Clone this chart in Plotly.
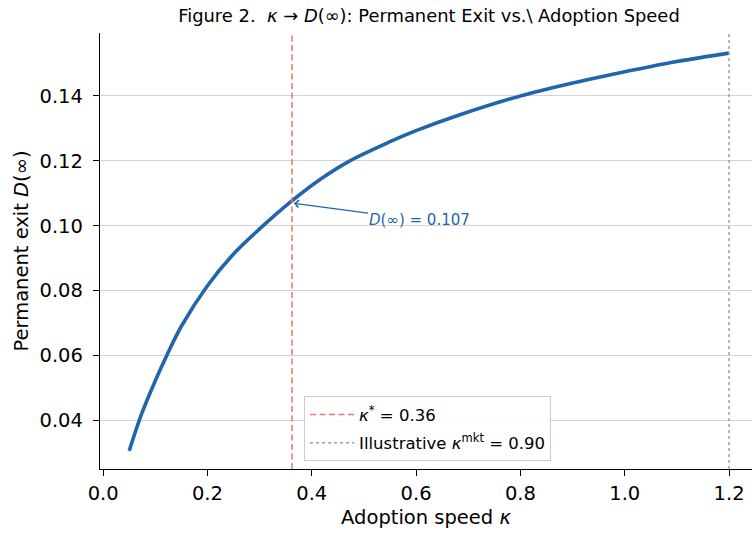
import plotly.graph_objects as go

# Data
kappa = [0.05, 0.075, 0.10, 0.122, 0.15, 0.20, 0.25, 0.30, 0.36, 0.42, 0.473,
         0.55, 0.60, 0.684, 0.80, 0.90, 0.972, 1.10, 1.20]
d_inf = [0.0306, 0.0425, 0.0522, 0.0600, 0.0690, 0.0815, 0.0913, 0.0990, 0.1074,
         0.1147, 0.1200, 0.1259, 0.1293, 0.1342, 0.1400, 0.1440, 0.1465, 0.1506, 0.1532]

kappa_star = 0.36
kappa_star_x = 0.362          # where the dashed line is drawn
d_at_star = 0.107
kappa_mkt_label = 0.90
kappa_mkt_x = 1.20            # where the dotted line is drawn in the reference

x_ticks = [0.0, 0.2, 0.4, 0.6, 0.8, 1.0, 1.2]
y_ticks = [0.04, 0.06, 0.08, 0.10, 0.12, 0.14]

FONT = "DejaVu Sans"
BLUE = "#2166ac"
RED = "#e07a68"
GREY = "#a0a0a0"

fig = go.Figure()

fig.add_trace(go.Scatter(
    x=kappa, y=d_inf, mode="lines",
    line=dict(color=BLUE, width=3.6, shape="spline", smoothing=1.0),
    showlegend=False, hoverinfo="skip"))

fig.add_trace(go.Scatter(
    x=[kappa_star_x, kappa_star_x], y=[0, 1], yaxis="y2", mode="lines",
    line=dict(color=RED, width=1.5, dash="6px,3.5px"), legendgroup="a",
    name=f"<i>κ</i><sup>*</sup> = {kappa_star:.2f}"))

fig.add_trace(go.Scatter(
    x=[kappa_mkt_x, kappa_mkt_x], y=[0, 1], yaxis="y2", mode="lines",
    line=dict(color=GREY, width=1.5, dash="dot"), legendgroup="b",
    name=f"Illustrative <i>κ</i><sup>mkt</sup> = {kappa_mkt_label:.2f}"))

fig.add_annotation(
    x=kappa_star_x, y=d_at_star, xref="x", yref="y",
    text=f"<i>D</i>(∞) = {d_at_star:.3f}",
    font=dict(family=FONT, size=15, color=BLUE),
    showarrow=True, arrowhead=4, arrowsize=1.1, arrowwidth=1.3, arrowcolor=BLUE,
    ax=128, ay=17, standoff=2)

fig.update_layout(
    width=752, height=536,
    margin=dict(l=100, r=0, t=33, b=67),
    paper_bgcolor="white", plot_bgcolor="white",
    font=dict(family=FONT, size=19.5, color="black"),
    title=dict(text="Figure 2.  <i>κ</i> → <i>D</i>(∞): Permanent Exit vs.\\ Adoption Speed",
               x=0.5046, xref="paper", xanchor="center", y=0.97, yanchor="middle",
               font=dict(family=FONT, size=17.9, color="black")),
    xaxis=dict(range=[-0.006, 1.244], tickvals=x_ticks, tickformat=".1f", automargin=False,
               showgrid=False, zeroline=False, showline=True, linecolor="black", linewidth=1.3,
               ticks="outside", ticklen=6, tickwidth=1.3, tickcolor="black",
               title=dict(text="Adoption speed <i>κ</i>", font=dict(size=19.5), standoff=6)),
    yaxis=dict(range=[0.025, 0.1594], tickvals=y_ticks, tickformat=".2f", automargin=False,
               showgrid=True, gridcolor="#d3d3d3", gridwidth=1, zeroline=False,
               showline=True, linecolor="black", linewidth=1.3,
               ticks="outside", ticklen=6, tickwidth=1.3, tickcolor="black",
               ticklabelstandoff=6,
               title=dict(text="Permanent exit <i>D</i>(∞)", font=dict(size=19.5), standoff=5)),
    yaxis2=dict(range=[0, 1], overlaying="y", visible=False, fixedrange=True),
    legend=dict(x=0.313, y=0.018, xanchor="left", yanchor="bottom",
                bgcolor="rgba(255,255,255,0.85)", bordercolor="#cccccc", borderwidth=1,
                font=dict(family=FONT, size=16.5), tracegroupgap=4, itemwidth=44),
)

fig.write_html("out.html", config={"displayModeBar": False},
               post_script="document.body.style.margin='0';")
